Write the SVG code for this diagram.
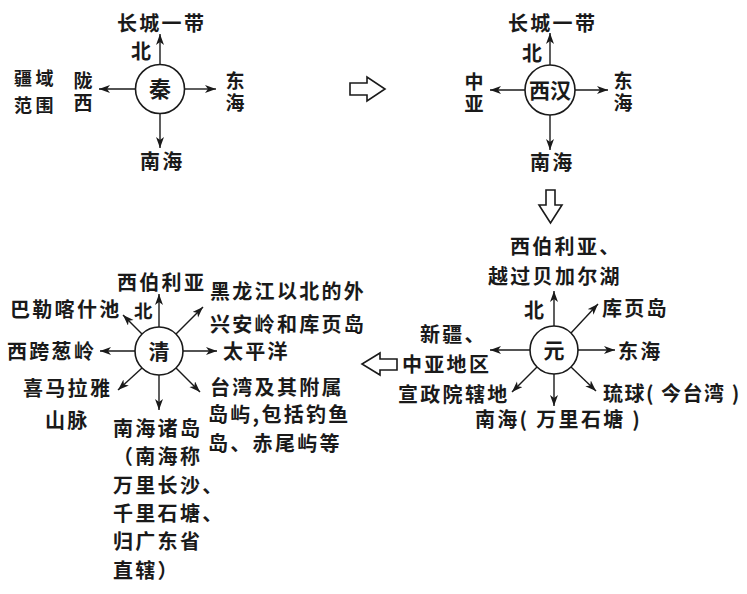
<svg xmlns="http://www.w3.org/2000/svg" width="747" height="594" viewBox="0 0 747 594">
<defs>
<marker id="ah" markerUnits="userSpaceOnUse" markerWidth="12" markerHeight="9" refX="11" refY="4" orient="auto">
<path d="M0,0 L11,4 L0,8 L3,4 z" fill="#1a1a1a"/>
</marker>
</defs>
<style>
text{font-family:"Noto Sans CJK SC","Noto Sans CJK JP",sans-serif;font-size:20px;font-weight:600;fill:#1a1a1a;letter-spacing:2.3px}
.c{font-size:21px;letter-spacing:0;text-anchor:middle}
.vt{font-size:19px;letter-spacing:3px;writing-mode:vertical-rl}
.sm{font-size:18px;letter-spacing:3.5px}
circle{fill:#fff;stroke:#1a1a1a;stroke-width:1.6}
.ln line{stroke:#1a1a1a;stroke-width:1.4;marker-end:url(#ah)}
.big{fill:#fff;stroke:#1a1a1a;stroke-width:1.6;stroke-linejoin:miter}
</style>
<rect width="747" height="594" fill="#fff"/>

<g id="connectors" class="ln">
<!-- Qin -->
<line x1="160" y1="65" x2="160" y2="34"/>
<line x1="184" y1="89" x2="216" y2="89"/>
<line x1="136" y1="89" x2="99" y2="89"/>
<line x1="160" y1="113" x2="160" y2="148"/>
<!-- Western Han -->
<line x1="550" y1="65" x2="550" y2="33"/>
<line x1="575" y1="90" x2="608" y2="90"/>
<line x1="525" y1="90" x2="490" y2="90"/>
<line x1="550" y1="115" x2="550" y2="150"/>
<!-- Yuan -->
<line x1="554" y1="326" x2="554" y2="291"/>
<line x1="578" y1="350" x2="615" y2="350"/>
<line x1="530" y1="350" x2="490" y2="350"/>
<line x1="554" y1="374" x2="554" y2="406"/>
<line x1="571" y1="333" x2="598" y2="304"/>
<line x1="571" y1="367" x2="596" y2="391"/>
<line x1="537" y1="367" x2="512" y2="392"/>
<!-- Qing -->
<line x1="159" y1="327" x2="159" y2="294"/>
<line x1="183" y1="351" x2="217" y2="351"/>
<line x1="135" y1="351" x2="100" y2="351"/>
<line x1="159" y1="375" x2="159" y2="410"/>
<line x1="142" y1="334" x2="123" y2="315"/>
<line x1="176" y1="334" x2="203" y2="307"/>
<line x1="176" y1="368" x2="200" y2="392"/>
<line x1="142" y1="368" x2="118" y2="390"/>
</g>

<g id="flow-arrows">
<polygon class="big" points="350,83 367,83 367,77 385,89 367,101 367,95 350,95"/>
<polygon class="big" points="546,190 555,190 555,205 562,205 550.5,223 539,205 546,205"/>
<polygon class="big" points="397,359 380,359 380,353 362,364 380,375 380,370 397,370"/>
</g>

<g id="qin">
<circle cx="160" cy="89" r="24.5"/>
<text class="c" x="160" y="97" style="font-size:22px">秦</text>
<text x="117" y="31">长城一带</text>
<text x="131" y="59">北</text>
<text class="sm" x="14" y="85">疆域</text>
<text class="sm" x="14" y="112">范围</text>
<text class="vt" x="83" y="71">陇西</text>
<text class="vt" x="235" y="71">东海</text>
<text x="140" y="169">南海</text>
</g>

<g id="xihan">
<circle cx="550" cy="90" r="25"/>
<text class="c" x="550" y="97.5">西汉</text>
<text x="508" y="31">长城一带</text>
<text x="522" y="61">北</text>
<text class="vt" x="474" y="72">中亚</text>
<text class="vt" x="623" y="71">东海</text>
<text x="530" y="170">南海</text>
</g>

<g id="yuan">
<circle cx="554" cy="350" r="24"/>
<text class="c" x="554" y="357.5">元</text>
<text x="510" y="254">西伯利亚、</text>
<text x="488" y="284">越过贝加尔湖</text>
<text x="524" y="318">北</text>
<text x="602" y="316">库页岛</text>
<text x="618" y="359">东海</text>
<text x="420" y="342">新疆、</text>
<text x="402" y="372">中亚地区</text>
<text x="398" y="402">宣政院辖地</text>
<text x="603" y="401" style="letter-spacing:1.5px">琉球( 今台湾 )</text>
<text x="475" y="427">南海( 万里石塘 )</text>
</g>

<g id="qing">
<circle cx="159" cy="351" r="24"/>
<text class="c" x="159" y="358.5">清</text>
<text x="117" y="290">西伯利亚</text>
<text x="134" y="318" style="font-size:18.5px">北</text>
<text x="10" y="317">巴勒喀什池</text>
<text x="210" y="299">黑龙江以北的外</text>
<text x="210" y="332">兴安岭和库页岛</text>
<text x="223" y="359">太平洋</text>
<text x="7" y="359">西跨葱岭</text>
<text x="23" y="396">喜马拉雅</text>
<text x="45" y="428">山脉</text>
<text x="210" y="395">台湾及其附属</text>
<text x="208" y="422">岛屿,包括钓鱼</text>
<text x="208" y="451">岛、赤尾屿等</text>
<text x="113" y="436">南海诸岛</text>
<text x="113" y="464">（南海称</text>
<text x="113" y="493">万里长沙、</text>
<text x="113" y="521">千里石塘、</text>
<text x="113" y="549">归广东省</text>
<text x="113" y="578">直辖）</text>
</g>
</svg>
